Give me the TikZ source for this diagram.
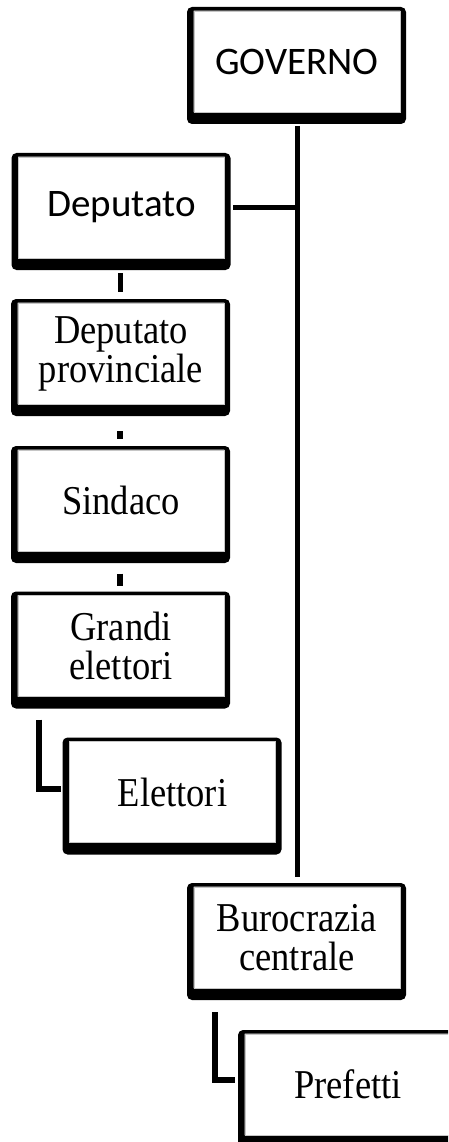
\documentclass[tikz,border=0pt]{standalone}
\usepackage{fontspec}
\setmainfont{Liberation Serif}[FakeStretch=0.89]
\newfontfamily\calibrifont{Carlito}
\newcommand\serifbox{\fontsize{41}{39}\selectfont}
\newcommand\sansbox{\calibrifont\fontsize{39}{42}\selectfont}
\tikzset{
    orgbox/.style={draw=gray!45, line width=0.8pt, fill=white, minimum width=206pt, minimum height=101pt,
        inner sep=0pt, outer sep=0pt, align=center, font=\serifbox,
        append after command={\pgfextra{\fill[black, even odd rule, rounded corners=5pt]
            ([shift={(-7pt,-12pt)}]\tikzlastnode.south west) rectangle ([shift={(6pt,4pt)}]\tikzlastnode.north east)
            [sharp corners] ([shift={(-0.4pt,-0.4pt)}]\tikzlastnode.south west) rectangle ([shift={(0.4pt,0.4pt)}]\tikzlastnode.north east);}}},
    sansorg/.style={orgbox, font=\sansbox},
    link/.style={line width=5.5pt},
}
\begin{document}
\begin{tikzpicture}[x=1pt, y=-1pt]
    \useasboundingbox (0,0) rectangle (448,1142);
    \clip (0,0) rectangle (448,1142);
    \node[sansorg] (gov) at (297,61.5) {GOVERNO};
    \node[sansorg] (dep) at (121.5,207.5) {Deputato};
    \node[orgbox] (depprov) at (121,353.5) {Deputato\\provinciale};
    \node[orgbox] (sind) at (121,500.5) {Sindaco};
    \node[orgbox] (grandi) at (121,646) {Grandi\\elettori};
    \node[orgbox] (elett) at (172.5,792) {Elettori};
    \node[orgbox] (buro) at (297,937.5) {Burocrazia\\centrale};
    \node[orgbox] (pref) at (348,1084.5) {Prefetti};
    \draw[link, line width=5pt, shorten <=14pt, shorten >=10pt] (gov.south) -- (buro.north);
    \draw[link, line width=5pt, shorten <=8.5pt] ([yshift=0.5pt]dep.east) -- ([yshift=0.5pt]dep.east -| gov.south);
    \draw[link, shorten <=15pt, shorten >=11pt] ([xshift=-1pt]dep.south) -- ([xshift=-1pt]dep.south |- depprov.north);
    \draw[link, shorten <=27pt, shorten >=11pt] ([xshift=-1pt]depprov.south) -- ([xshift=-1pt]depprov.south |- sind.north);
    \draw[link, shorten <=22.5pt, shorten >=10pt] ([xshift=-1pt]sind.south) -- ([xshift=-1pt]sind.south |- grandi.north);
    \draw[link, shorten >=9pt] ([xshift=21pt, yshift=-23pt]grandi.south west) |- ([yshift=3pt]elett.west);
    \draw[link, shorten >=10pt] ([xshift=21pt, yshift=-24pt]buro.south west) |- ([yshift=4.5pt]pref.west);
\end{tikzpicture}
\end{document}
